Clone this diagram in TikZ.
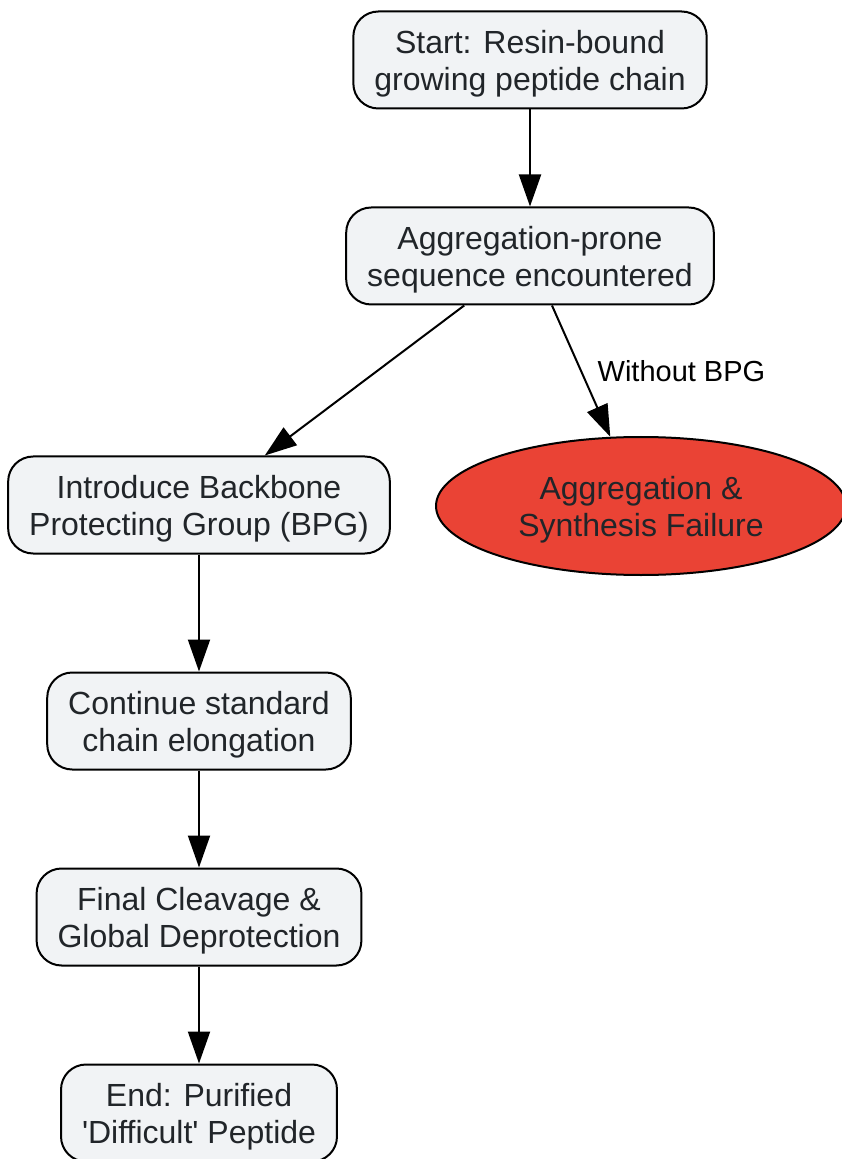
\documentclass[tikz,border=0pt]{standalone}
\usepackage{fontspec}
\setmainfont{Liberation Sans}
\usetikzlibrary{arrows.meta,shapes.geometric}
\definecolor{boxfill}{HTML}{F1F3F5}
\definecolor{boxtext}{HTML}{212529}
\definecolor{failred}{HTML}{EA4335}
\newcommand{\topstrut}{\rule{0pt}{15.8pt}}
\tikzset{
  stepbox/.style={draw=black, line width=1pt, fill=boxfill, text=boxtext,
    rounded corners=12.5pt, align=center, inner xsep=10.5pt, inner ysep=0pt,
    minimum height=48.5pt, font=\fontsize{16}{18.5}\selectfont},
  failnode/.style={ellipse, draw=black, line width=1pt, fill=failred, text=boxtext,
    align=center, inner sep=0pt, minimum width=205pt, minimum height=69pt,
    font=\fontsize{16}{18.5}\selectfont},
  conn/.style={draw=black, line width=1pt, -{Triangle[length=16pt,width=11pt]}},
  edgelabel/.style={font=\fontsize{14.5}{16}\selectfont, text=black, inner sep=0pt}
}
\begin{document}
\begin{tikzpicture}[x=0.5pt,y=-0.5pt]
\useasboundingbox (0,0) rectangle (841,1159);
\node[stepbox] (start) at (530,60) {\topstrut Start: Resin-bound\\growing peptide chain};
\node[stepbox] (agg) at (530,256) {\topstrut Aggregation-prone\\sequence encountered};
\node[stepbox] (bpg) at (199,505) {\topstrut Introduce Backbone\\Protecting Group (BPG)};
\node[failnode] (fail) at (641,506) {\topstrut Aggregation \&\\Synthesis Failure};
\node[stepbox] (cont) at (199,721) {\topstrut Continue standard\\chain elongation};
\node[stepbox] (final) at (199,917) {\topstrut Final Cleavage \&\\Global Deprotection};
\node[stepbox] (end) at (199,1113) {\topstrut End: Purified\\\textquotesingle Difficult\textquotesingle{} Peptide};
\draw[conn] (start) -- (agg);
\draw[conn] (agg) -- (bpg);
\draw[conn] (agg) -- node[edgelabel, pos=0.5, anchor=west, xshift=7.75pt] (lbl) {Without BPG} (fail);
\draw[conn] (bpg) -- (cont);
\draw[conn] (cont) -- (final);
\draw[conn] (final) -- (end);
\end{tikzpicture}
\end{document}
